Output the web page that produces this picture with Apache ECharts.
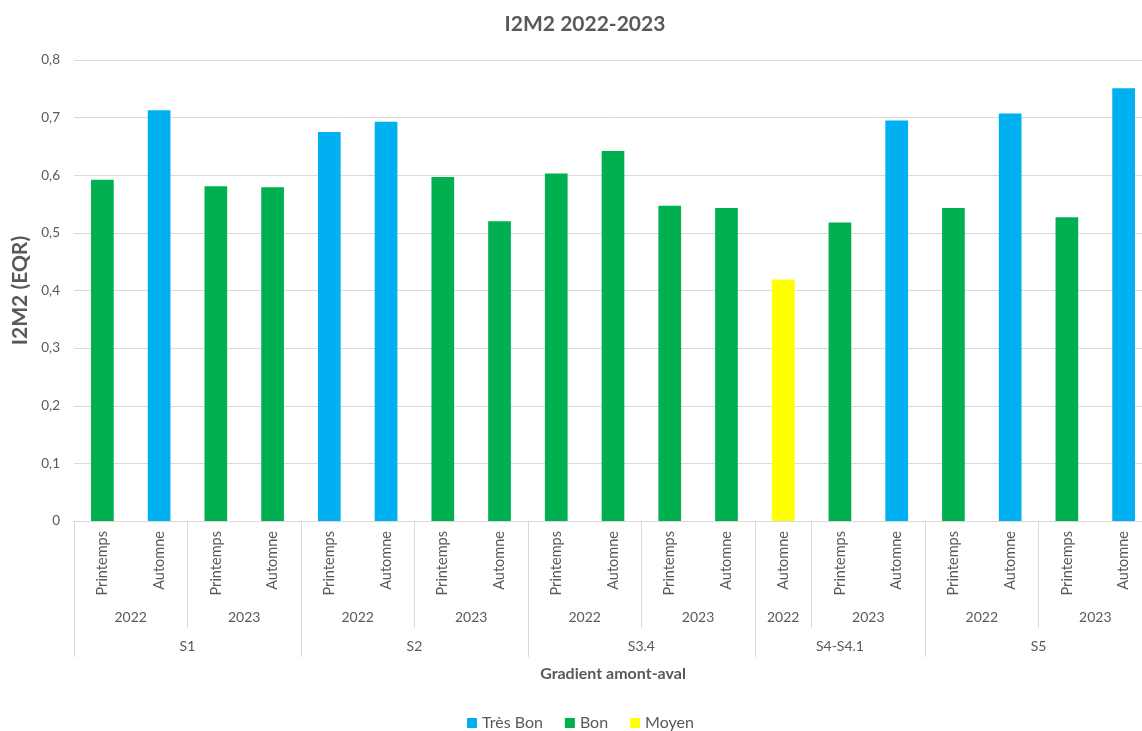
<!DOCTYPE html>
<html>
<head>
<meta charset="utf-8">
<script src="https://cdn.jsdelivr.net/npm/echarts@6/dist/echarts.min.js"></script>
<style>
html,body{margin:0;padding:0;background:#fff;}
#chart{width:1142px;height:731px;}
</style>
</head>
<body>
<div id="chart"></div>
<script>
// ---- data ----
const seasons = ['Printemps','Automne','Printemps','Automne','Printemps','Automne','Printemps','Automne','Printemps','Automne','Printemps','Automne','Automne','Printemps','Automne','Printemps','Automne','Printemps','Automne'];
const years   = ['2022','2022','2023','2023','2022','2022','2023','2023','2022','2022','2023','2023','2022','2023','2023','2022','2022','2023','2023'];
const sites   = ['S1','S1','S1','S1','S2','S2','S2','S2','S3.4','S3.4','S3.4','S3.4','S4-S4.1','S4-S4.1','S4-S4.1','S5','S5','S5','S5'];
const values  = [0.592,0.713,0.581,0.579,0.675,0.693,0.597,0.520,0.603,0.642,0.547,0.543,0.419,0.518,0.695,0.543,0.707,0.527,0.751];
const classes = ['Bon','Très Bon','Bon','Bon','Très Bon','Très Bon','Bon','Bon','Bon','Bon','Bon','Bon','Moyen','Bon','Très Bon','Bon','Très Bon','Bon','Très Bon'];
const classNames = ['Très Bon','Bon','Moyen'];
const yTicks = [0,0.1,0.2,0.3,0.4,0.5,0.6,0.7,0.8];

// ---- helpers for the hierarchical axis ----
const colors = {'Très Bon':'#00B0F0','Bon':'#00B050','Moyen':'#FFFF00'};
const n = seasons.length;
function groups(keyFn){
  const out=[]; let start=0;
  for(let i=1;i<=n;i++){
    if(i===n || keyFn(i)!==keyFn(start)){ out.push({start:start,end:i,label:keyFn(start).split('|').pop()}); start=i; }
  }
  return out;
}
const yearGroups = groups(i=>sites[i]+'|'+years[i]);
const siteGroups = groups(i=>sites[i]);
function halfAxis(gs){
  const labels=new Array(2*n+1).fill('');
  const ticks=new Set();
  gs.forEach(g=>{ labels[g.start+g.end]=g.label; ticks.add(2*g.start); ticks.add(2*g.end); });
  return {labels, ticks};
}
const ya = halfAxis(yearGroups);
const sa = halfAxis(siteGroups);

const txt = '#595959';
const font = 'Lato';
const chart = echarts.init(document.getElementById('chart'));
chart.setOption({
  animation:false,
  textStyle:{fontFamily:font},
  title:{text:'I2M2 2022-2023',left:580,top:9,textAlign:'center',
    textStyle:{fontFamily:font,fontSize:21,fontWeight:'bold',color:txt}},
  legend:{bottom:-5,left:462,itemWidth:10,itemHeight:10,itemGap:22,icon:'rect',
    data:classNames,textStyle:{fontFamily:font,fontSize:16,color:txt}},
  grid:{left:74,width:1078,top:60,bottom:210,outerBoundsMode:'none',containLabel:false},
  xAxis:[
    {type:'category',data:seasons,axisTick:{show:false},
     axisLine:{lineStyle:{color:'#d9d9d9'}},
     axisLabel:{rotate:90,interval:0,margin:10,fontSize:14.5,color:txt,fontFamily:font}},
    {type:'category',boundaryGap:false,data:ya.labels,position:'bottom',
     axisLine:{show:false},
     axisTick:{show:true,length:107,interval:(i)=>ya.ticks.has(i),lineStyle:{color:'#d9d9d9'}},
     axisLabel:{interval:0,margin:89,fontSize:14,color:txt,fontFamily:font}},
    {type:'category',boundaryGap:false,data:sa.labels,position:'bottom',
     name:'Gradient amont-aval',nameLocation:'middle',nameGap:145,
     nameTextStyle:{fontFamily:font,fontSize:16,fontWeight:'bold',color:txt},
     axisLine:{show:false},
     axisTick:{show:true,length:136,interval:(i)=>sa.ticks.has(i),lineStyle:{color:'#d9d9d9'}},
     axisLabel:{interval:0,margin:118,fontSize:14,color:txt,fontFamily:font}}
  ],
  yAxis:{type:'value',min:0,max:0.8,interval:0.1,
    name:'I2M2 (EQR)',nameLocation:'middle',nameGap:42,
    nameTextStyle:{fontFamily:font,fontSize:21,fontWeight:'bold',color:txt},
    axisLabel:{color:txt,fontSize:13.5,margin:14,fontFamily:font,
      formatter:v=>String(Math.round(v*10)/10).replace('.',',')},
    splitLine:{lineStyle:{color:'#d9d9d9'}},axisLine:{show:false},axisTick:{show:false}},
  series: classNames.map(c=>({
    name:c,type:'bar',stack:'all',barWidth:'40%',xAxisIndex:0,
    itemStyle:{color:colors[c]},
    data: values.map((v,i)=>classes[i]===c? v : '-')
  }))
});
</script>
</body>
</html>
